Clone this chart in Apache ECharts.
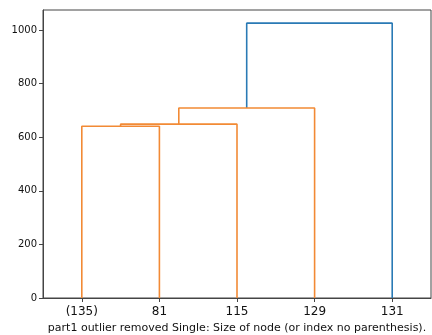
<!DOCTYPE html>
<html>
<head>
<meta charset="utf-8">
<script src="https://cdn.jsdelivr.net/npm/echarts@6/dist/echarts.min.js"></script>
<style>
  html, body { margin: 0; padding: 0; background: #fff; }
  #chart { width: 432px; height: 335px; }
</style>
</head>
<body>
<div id="chart"></div>
<script>
// leaves, as scipy places them at x = 5, 15, 25, ...
const leafLabels = ['(135)', '81', '115', '129', '131'];
const leafPos = [5, 15, 25, 35, 45];
// links (scipy icoord / dcoord style)
const icoord = [
  [5, 5, 15, 15],
  [10, 10, 25, 25],
  [17.5, 17.5, 35, 35],
  [26.25, 26.25, 45, 45]
];
const dcoord = [
  [0, 641, 641, 0],
  [641, 649, 649, 0],
  [649, 709, 709, 0],
  [709, 1026, 1026, 0]
];
const linkColors = ['#f28a35', '#f28a35', '#f28a35', '#2a7ab5'];
const yTicks = [0, 200, 400, 600, 800, 1000];

document.addEventListener('DOMContentLoaded', function () {
  const chart = echarts.init(document.getElementById('chart'));
  const font = 'DejaVu Sans';

  const series = icoord.map((xs, i) => ({
    type: 'line',
    data: xs.map((x, j) => [x, dcoord[i][j]]),
    showSymbol: false,
    lineStyle: { color: linkColors[i], width: 1.6 },
    z: i === 3 ? 1 : 2
  }));

  const option = {
    animation: false,
    grid: {
      left: 43, right: 1, top: 10, bottom: 37,
      outerBoundsMode: 'none',
      show: true, borderColor: '#444', borderWidth: 1
    },
    xAxis: {
      type: 'value', min: 0, max: 50,
      name: 'part1 outlier removed Single: Size of node (or index no parenthesis).',
      nameLocation: 'middle', nameGap: 25,
      nameTextStyle: { fontFamily: font, fontSize: 11, color: '#111' },
      splitLine: { show: false },
      axisLine: { lineStyle: { color: '#444' } },
      axisTick: { customValues: leafPos, length: 4, lineStyle: { color: '#444' } },
      axisLabel: {
        customValues: leafPos,
        formatter: v => leafLabels[leafPos.indexOf(v)] || '',
        fontFamily: font, fontSize: 12, color: '#111', margin: 8
      }
    },
    yAxis: {
      type: 'value', min: 0, max: 1075,
      splitLine: { show: false },
      axisLine: { show: true, lineStyle: { color: '#444' } },
      axisTick: { show: true, customValues: yTicks, length: 4, lineStyle: { color: '#444' } },
      axisLabel: {
        customValues: yTicks,
        formatter: v => String(v),
        fontFamily: font, fontSize: 10, color: '#111', margin: 6
      }
    },
    series: series
  };
  chart.setOption(option);
  window.addEventListener('resize', () => chart.resize());
});
</script>
</body>
</html>
